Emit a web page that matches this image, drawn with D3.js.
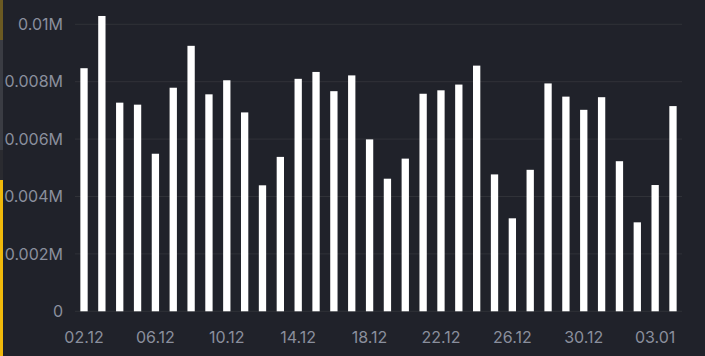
<!DOCTYPE html>
<html>
<head>
<meta charset="utf-8">
<script src="https://cdn.jsdelivr.net/npm/d3@7"></script>
<style>
  html, body { margin: 0; padding: 0; background: #20222a; }
  svg { display: block; }
</style>
</head>
<body>
<svg id="chart" width="705" height="356"></svg>
<script>
const dates = ["02.12","03.12","04.12","05.12","06.12","07.12","08.12","09.12","10.12","11.12",
  "12.12","13.12","14.12","15.12","16.12","17.12","18.12","19.12","20.12","21.12",
  "22.12","23.12","24.12","25.12","26.12","27.12","28.12","29.12","30.12","31.12",
  "01.01","02.01","03.01","04.01"];
const values = [0.00847,0.01029,0.00727,0.00720,0.00549,0.00779,0.00925,0.00756,0.00805,0.00693,
  0.00439,0.00538,0.00810,0.00834,0.00767,0.00822,0.00599,0.00462,0.00532,0.00758,
  0.00770,0.00790,0.00856,0.00477,0.00324,0.00493,0.00794,0.00748,0.00702,0.00746,
  0.00523,0.00310,0.00440,0.00715];
const yTicks = [0, 0.002, 0.004, 0.006, 0.008, 0.01];
const yTickLabels = ["0", "0.002M", "0.004M", "0.006M", "0.008M", "0.01M"];
const xTickLabels = ["02.12","06.12","10.12","14.12","18.12","22.12","26.12","30.12","03.01"];

const svg = d3.select("#chart");
const mLeft = 75, mRight = 682, mTop = 24.3, mBottom = 311.3;

// left edge strip (cropped neighbouring element)
svg.append("rect").attr("x", 0).attr("y", 0).attr("width", 3).attr("height", 40).attr("fill", "#6b5a22");
svg.append("rect").attr("x", 0).attr("y", 40).attr("width", 3).attr("height", 110).attr("fill", "#3a3c43");
svg.append("rect").attr("x", 0).attr("y", 150).attr("width", 3).attr("height", 30).attr("fill", "#2a2b30");
svg.append("rect").attr("x", 0).attr("y", 180).attr("width", 3).attr("height", 176).attr("fill", "#f0b90b");

const x = d3.scaleBand().domain(dates).range([mLeft, mRight]).paddingInner(0.59).paddingOuter(0.3);
const y = d3.scaleLinear().domain([0, 0.01]).range([mBottom, mTop]);

const font = "Inter, 'Noto Sans', sans-serif";

// grid
svg.append("g").selectAll("line").data(yTicks).join("line")
  .attr("x1", mLeft).attr("x2", mRight)
  .attr("y1", d => y(d)).attr("y2", d => y(d))
  .attr("stroke", "#303238").attr("stroke-width", 1);

// y labels
svg.append("g").selectAll("text").data(yTicks).join("text")
  .attr("x", 63).attr("y", d => y(d))
  .attr("dy", "0.36em")
  .attr("text-anchor", "end")
  .attr("fill", "#8a8f9d")
  .style("font-family", font).style("font-size", "16px")
  .text((d, i) => yTickLabels[i]);

// bars
svg.append("g").selectAll("rect").data(values).join("rect")
  .attr("x", (d, i) => x(dates[i]))
  .attr("width", x.bandwidth())
  .attr("y", d => y(d))
  .attr("height", d => y(0) - y(d))
  .attr("fill", "#ffffff");

// x labels
svg.append("g").selectAll("text").data(xTickLabels).join("text")
  .attr("x", d => x(d) + x.bandwidth() / 2)
  .attr("y", 343)
  .attr("text-anchor", "middle")
  .attr("fill", "#8a8f9d")
  .style("font-family", font).style("font-size", "16px")
  .text(d => d);
</script>
</body>
</html>
